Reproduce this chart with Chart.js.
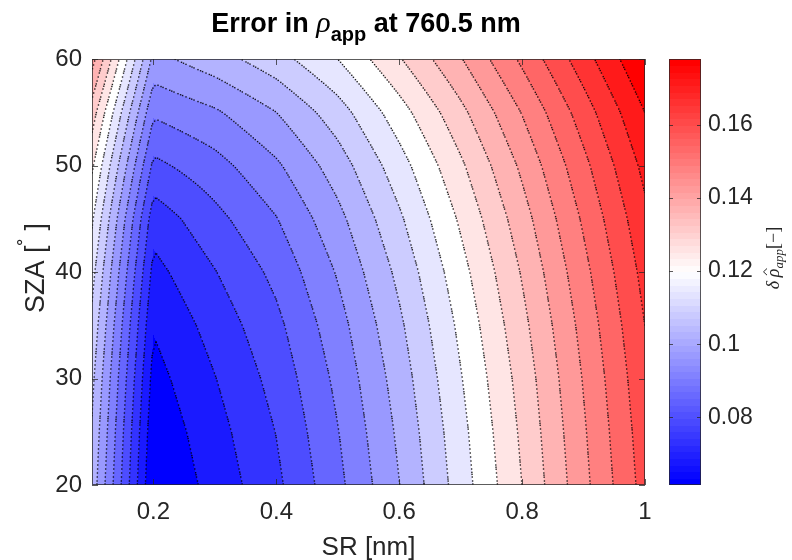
<!DOCTYPE html>
<html>
<head>
<meta charset="utf-8">
<script src="https://cdn.jsdelivr.net/npm/chart.js@4.4.1/dist/chart.umd.min.js"></script>
<style>
  html, body { margin: 0; padding: 0; background: #ffffff; }
  #wrap { width: 792px; height: 560px; }
</style>
</head>
<body>
<div id="wrap"><canvas id="c" width="792" height="560"></canvas></div>
<script>
// Grid axes: spectral resolution (nm) and solar zenith angle (deg)
const SR  = [0.1, 0.2, 0.3, 0.4, 0.5, 0.6, 0.7, 0.8, 0.9, 1.0];
const SZA = [20, 25, 30, 35, 40, 45, 50, 55, 60];

// Error in apparent reflectance at 760.5 nm, one row per SZA, columns follow SR
const err_sza20 = [0.1037, 0.0615, 0.0691, 0.0769, 0.0877, 0.1002, 0.1142, 0.1281, 0.1431, 0.1580];
const err_sza25 = [0.1053, 0.0630, 0.0705, 0.0783, 0.0890, 0.1014, 0.1152, 0.1291, 0.1440, 0.1589];
const err_sza30 = [0.1073, 0.0650, 0.0724, 0.0801, 0.0906, 0.1029, 0.1166, 0.1303, 0.1451, 0.1600];
const err_sza35 = [0.1100, 0.0675, 0.0748, 0.0823, 0.0926, 0.1048, 0.1183, 0.1320, 0.1466, 0.1614];
const err_sza40 = [0.1134, 0.0708, 0.0779, 0.0852, 0.0953, 0.1073, 0.1205, 0.1341, 0.1486, 0.1632];
const err_sza45 = [0.1178, 0.0750, 0.0820, 0.0890, 0.0987, 0.1105, 0.1234, 0.1368, 0.1511, 0.1655];
const err_sza50 = [0.1235, 0.0823, 0.0872, 0.0939, 0.1031, 0.1146, 0.1271, 0.1403, 0.1543, 0.1685];
const err_sza55 = [0.1310, 0.0901, 0.0940, 0.1003, 0.1089, 0.1201, 0.1321, 0.1450, 0.1586, 0.1725];
const err_sza60 = [0.1414, 0.0987, 0.1035, 0.1092, 0.1170, 0.1276, 0.1388, 0.1514, 0.1645, 0.1780];
const errRows = [err_sza20, err_sza25, err_sza30, err_sza35, err_sza40, err_sza45, err_sza50, err_sza55, err_sza60];

// Tick labels
const xTicks  = [0.2, 0.4, 0.6, 0.8, 1];
const yTicks  = [20, 30, 40, 50, 60];
const cbTicks = [0.08, 0.1, 0.12, 0.14, 0.16];
const nLevels = 20;

// Contour levels spread evenly between the data extremes
const allVals = errRows.flat();
const zMin = Math.min(...allVals);
const zMax = Math.max(...allVals);
const levelStep = (zMax - zMin) / (nLevels + 1);
const levels = [];
for (let k = 1; k <= nLevels; k++) levels.push(zMin + k * levelStep);

// Blue - white - red diverging map
function cmap(t) {
  t = Math.max(0, Math.min(1, t));
  if (t < 0.5) { const c = Math.round(510 * t); return [c, c, 255]; }
  const c = Math.round(255 * (2 - 2 * t));
  return [255, c, c];
}
const bandColors = [];
for (let k = 0; k <= nLevels; k++) bandColors.push(cmap(k / nLevels));

function bandOf(v) {
  let k = 0;
  while (k < levels.length && v >= levels[k]) k++;
  return k;
}

// Bilinear value inside the SR x SZA grid
function valueAt(sr, sza) {
  let i = 0; while (i < SR.length - 2 && sr > SR[i + 1]) i++;
  let j = 0; while (j < SZA.length - 2 && sza > SZA[j + 1]) j++;
  let tx = (sr - SR[i]) / (SR[i + 1] - SR[i]);
  let ty = (sza - SZA[j]) / (SZA[j + 1] - SZA[j]);
  tx = Math.max(0, Math.min(1, tx)); ty = Math.max(0, Math.min(1, ty));
  const z00 = errRows[j][i], z10 = errRows[j][i + 1];
  const z01 = errRows[j + 1][i], z11 = errRows[j + 1][i + 1];
  return z00 * (1 - tx) * (1 - ty) + z10 * tx * (1 - ty) + z01 * (1 - tx) * ty + z11 * tx * ty;
}

const TXT = '#262626';
const SANS = '"Liberation Sans", Arial, Helvetica, sans-serif';
const SERIF = '"Liberation Serif", "Times New Roman", serif';

function drawRuns(ctx, runs, cx, baseline) {
  let total = 0;
  runs.forEach(r => { ctx.font = r.f; r.w = ctx.measureText(r.t).width; total += r.w; });
  let xx = cx - total / 2;
  ctx.textAlign = 'left';
  ctx.textBaseline = 'alphabetic';
  runs.forEach(r => {
    ctx.font = r.f;
    ctx.fillStyle = r.c || TXT;
    ctx.fillText(r.t, xx, baseline + (r.dy || 0));
    r.x = xx;
    xx += r.w;
  });
  return runs;
}

const contourPlugin = {
  id: 'contourFill',
  beforeDatasetsDraw(chart) {
    const { ctx, chartArea: a, scales: { x, y } } = chart;
    const L = Math.round(a.left), T = Math.round(a.top);
    const w = Math.round(a.right) - L, h = Math.round(a.bottom) - T;
    const off = document.createElement('canvas');
    off.width = w; off.height = h;
    const octx = off.getContext('2d');
    const img = octx.createImageData(w, h);
    for (let py = 0; py < h; py++) {
      const yv = y.getValueForPixel(T + py + 0.5);
      for (let px = 0; px < w; px++) {
        const xv = x.getValueForPixel(L + px + 0.5);
        const c = bandColors[bandOf(valueAt(xv, yv))];
        const o = (py * w + px) * 4;
        img.data[o] = c[0]; img.data[o + 1] = c[1]; img.data[o + 2] = c[2]; img.data[o + 3] = 255;
      }
    }
    octx.putImageData(img, 0, 0);
    ctx.drawImage(off, L, T);

    // dotted contour lines: one dot per marching-squares cell crossing
    const cell = 4;
    const nx = Math.ceil(w / cell) + 1, ny = Math.ceil(h / cell) + 1;
    const gv = [];
    for (let j = 0; j < ny; j++) {
      const row = [];
      const py = Math.min(T + j * cell, T + h);
      const yv = y.getValueForPixel(py);
      for (let i = 0; i < nx; i++) {
        const px = Math.min(L + i * cell, L + w);
        row.push(valueAt(x.getValueForPixel(px), yv));
      }
      gv.push(row);
    }
    ctx.save();
    ctx.beginPath(); ctx.rect(L, T, w, h); ctx.clip();
    ctx.fillStyle = 'rgba(0,0,0,0.85)';
    for (let j = 0; j < ny - 1; j++) {
      const y0 = Math.min(T + j * cell, T + h), y1 = Math.min(T + (j + 1) * cell, T + h);
      for (let i = 0; i < nx - 1; i++) {
        const x0 = Math.min(L + i * cell, L + w), x1 = Math.min(L + (i + 1) * cell, L + w);
        const a00 = gv[j][i], a10 = gv[j][i + 1], a01 = gv[j + 1][i], a11 = gv[j + 1][i + 1];
        const lo = Math.min(a00, a10, a01, a11), hi = Math.max(a00, a10, a01, a11);
        for (const lv of levels) {
          if (lv <= lo || lv >= hi) continue;
          const pts = [];
          const edge = (va, vb, xa, ya, xb, yb) => {
            if ((va - lv) * (vb - lv) < 0) {
              const t = (lv - va) / (vb - va);
              pts.push([xa + (xb - xa) * t, ya + (yb - ya) * t]);
            }
          };
          edge(a00, a10, x0, y0, x1, y0);
          edge(a10, a11, x1, y0, x1, y1);
          edge(a01, a11, x0, y1, x1, y1);
          edge(a00, a01, x0, y0, x0, y1);
          for (let p = 0; p + 1 < pts.length; p += 2) {
            const mx = (pts[p][0] + pts[p + 1][0]) / 2, my = (pts[p][1] + pts[p + 1][1]) / 2;
            ctx.fillRect(mx - 0.7, my - 0.7, 1.4, 1.4);
          }
        }
      }
    }
    ctx.restore();
  },
  afterDraw(chart) {
    const { ctx, chartArea: a, scales: { x, y, cb } } = chart;
    ctx.save();
    // axes box with inward ticks on all four sides
    ctx.strokeStyle = 'rgba(38,38,38,0.75)';
    ctx.lineWidth = 1;
    ctx.strokeRect(Math.round(a.left) + 0.5, Math.round(a.top) + 0.5,
                   Math.round(a.right) - Math.round(a.left) - 1, Math.round(a.bottom) - Math.round(a.top) - 1);
    ctx.beginPath();
    xTicks.forEach(v => {
      const px = Math.round(x.getPixelForValue(v)) + 0.5;
      ctx.moveTo(px, a.bottom); ctx.lineTo(px, a.bottom - 6);
      ctx.moveTo(px, a.top); ctx.lineTo(px, a.top + 6);
    });
    yTicks.forEach(v => {
      const py = Math.round(y.getPixelForValue(v)) + 0.5;
      ctx.moveTo(a.left, py); ctx.lineTo(a.left + 6, py);
      ctx.moveTo(a.right, py); ctx.lineTo(a.right - 6, py);
    });
    ctx.stroke();

    // colorbar
    const cbL = 669, cbR = 701;
    const nSteps = 64;
    for (let m = 0; m < nSteps; m++) {
      const v0 = zMin + (zMax - zMin) * m / nSteps;
      const v1 = zMin + (zMax - zMin) * (m + 1) / nSteps;
      const p0 = cb.getPixelForValue(v0), p1 = cb.getPixelForValue(v1);
      const c = cmap(m / (nSteps - 1));
      ctx.fillStyle = `rgb(${c[0]},${c[1]},${c[2]})`;
      ctx.fillRect(cbL, Math.floor(p1), cbR - cbL, Math.ceil(p0) - Math.floor(p1));
    }
    ctx.strokeStyle = 'rgba(38,38,38,0.75)';
    ctx.strokeRect(cbL + 0.5, Math.round(a.top) + 0.5, cbR - cbL - 1, Math.round(a.bottom) - Math.round(a.top) - 1);
    ctx.beginPath();
    cbTicks.forEach(v => {
      const py = Math.round(cb.getPixelForValue(v)) + 0.5;
      ctx.moveTo(cbR, py); ctx.lineTo(cbR - 4, py);
      ctx.moveTo(cbL, py); ctx.lineTo(cbL + 4, py);
    });
    ctx.stroke();

    // title
    drawRuns(ctx, [
      { t: 'Error in ', f: 'bold 27px ' + SANS, c: '#000' },
      { t: 'ρ', f: 'italic 30px ' + SERIF, c: '#000' },
      { t: 'app', f: 'bold 20px ' + SANS, c: '#000', dy: 9 },
      { t: ' at 760.5 nm', f: 'bold 27px ' + SANS, c: '#000' }
    ], 366, 32);

    // x-axis title
    drawRuns(ctx, [{ t: 'SR [nm]', f: '26px ' + SANS }], (a.left + a.right) / 2, 555);

    // y-axis title
    ctx.save();
    ctx.translate(44, 268);
    ctx.rotate(-Math.PI / 2);
    drawRuns(ctx, [
      { t: 'SZA [', f: '27px ' + SANS },
      { t: '\u02DA', f: '22px ' + SANS, dy: -9 },
      { t: ' ]', f: '27px ' + SANS }
    ], 0, 0);
    ctx.restore();

    // colorbar title
    ctx.save();
    ctx.translate(779, 258);
    ctx.rotate(-Math.PI / 2);
    const runs = drawRuns(ctx, [
      { t: 'δ\u2009', f: 'italic 18px ' + SERIF },
      { t: 'ρ', f: 'italic 18px ' + SERIF },
      { t: 'app', f: 'italic 13px ' + SERIF, dy: 4 },
      { t: '[−]', f: '18px ' + SERIF }
    ], 0, 0);
    // hat over rho
    const rho = runs[1];
    ctx.strokeStyle = TXT; ctx.lineWidth = 1;
    ctx.beginPath();
    ctx.moveTo(rho.x + 2, -12); ctx.lineTo(rho.x + rho.w / 2 + 1, -15.5); ctx.lineTo(rho.x + rho.w, -12);
    ctx.stroke();
    ctx.restore();
    ctx.restore();
  }
};

// grid nodes as an (invisible) dataset so the scales cover the field
const nodes = [];
SZA.forEach((s, j) => SR.forEach((r, i) => nodes.push({ x: r, y: s, v: errRows[j][i] })));

const tickFont = { family: SANS, size: 24 };

new Chart(document.getElementById('c'), {
  type: 'scatter',
  data: { datasets: [{ data: nodes, pointRadius: 0, pointHoverRadius: 0, showLine: false }] },
  options: {
    responsive: false,
    animation: false,
    events: [],
    layout: { padding: { top: 59, left: 0, right: 0, bottom: 0 } },
    plugins: { legend: { display: false }, tooltip: { enabled: false }, title: { display: false } },
    scales: {
      x: {
        type: 'linear', position: 'bottom', min: 0.1, max: 1,
        afterBuildTicks: s => { s.ticks = xTicks.map(v => ({ value: v })); },
        afterFit: s => { s.height = 75; s.paddingLeft = 0; s.paddingRight = 0; },
        grid: { display: false, drawTicks: false },
        border: { display: false },
        ticks: { font: tickFont, color: TXT, padding: 13, autoSkip: false, maxRotation: 0,
                 callback: v => String(v) }
      },
      y: {
        type: 'linear', position: 'left', min: 20, max: 60,
        afterBuildTicks: s => { s.ticks = yTicks.map(v => ({ value: v })); },
        afterFit: s => { s.width = 92; s.paddingTop = 0; s.paddingBottom = 0; },
        grid: { display: false, drawTicks: false },
        border: { display: false },
        ticks: { font: tickFont, color: TXT, padding: 10, autoSkip: false, callback: v => String(v) }
      },
      cb: {
        type: 'linear', position: 'right', min: zMin, max: zMax,
        afterBuildTicks: s => { s.ticks = cbTicks.map(v => ({ value: v })); },
        afterFit: s => { s.width = 147; s.paddingTop = 0; s.paddingBottom = 0; },
        grid: { display: false, drawTicks: false },
        border: { display: false },
        ticks: { font: { family: SANS, size: 23 }, color: TXT, padding: 63, autoSkip: false, callback: v => String(v) }
      }
    }
  },
  plugins: [contourPlugin]
});
</script>
</body>
</html>
